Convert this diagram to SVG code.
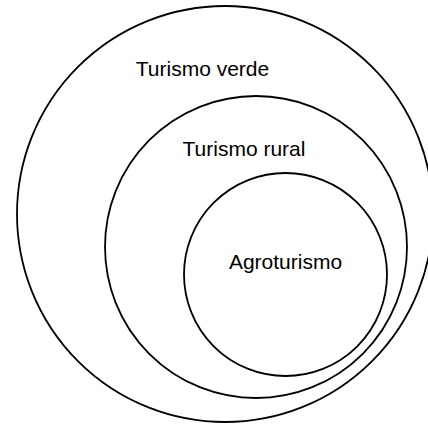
<svg xmlns="http://www.w3.org/2000/svg" width="428" height="424" viewBox="0 0 428 424">
<style>
.c{fill:none;stroke:#000;stroke-width:1.8}
.t{font-family:"Liberation Sans",Arial,sans-serif;font-size:21px;fill:#000;text-anchor:middle}
</style>
<rect width="428" height="424" fill="#fff"/>
<g id="turismo-verde">
<circle class="c" cx="225" cy="214" r="208"/>
<text class="t" x="202.5" y="76">Turismo verde</text>
</g>
<g id="turismo-rural">
<circle class="c" cx="256" cy="247" r="151"/>
<text class="t" x="244" y="156">Turismo rural</text>
</g>
<g id="agroturismo">
<circle class="c" cx="285.5" cy="274.5" r="101.5"/>
<text class="t" x="285.5" y="269">Agroturismo</text>
</g>
<g id="connectors"/>
</svg>
